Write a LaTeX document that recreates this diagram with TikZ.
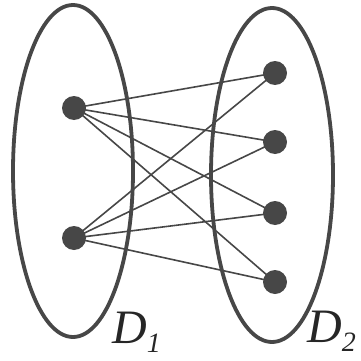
\documentclass[tikz,border=0pt]{standalone}
\usepackage{fontspec}
\setmainfont{Liberation Serif}
\usetikzlibrary{backgrounds}
\begin{document}
\begin{tikzpicture}[x=1pt,y=-1pt,
  dot/.style={circle,fill=black!72,draw=none,minimum size=24pt,inner sep=0pt},
  set/.style={draw=black!72,line width=3.8pt},
  edge/.style={draw=black!72,line width=1.6pt},
  lbl/.style={font=\fontsize{48}{48}\selectfont\itshape,inner sep=0pt,text=black!85}]
\useasboundingbox (0,0) rectangle (360,361);
\draw[set] (73,171) ellipse [x radius=60, y radius=166];
\draw[set] (272,175) ellipse [x radius=61, y radius=167];
\node[dot] (a1) at (74,108) {};
\node[dot] (a2) at (74,238) {};
\node[dot] (b1) at (275,73) {};
\node[dot] (b2) at (275,142) {};
\node[dot] (b3) at (275,213) {};
\node[dot] (b4) at (275,282) {};
\begin{scope}[on background layer]
\foreach \a in {a1,a2}{\foreach \b in {b1,b2,b3,b4}{\draw[edge] (\a.center) -- (\b.center);}}
\end{scope}
\node[lbl,anchor=base west] (d1) at (112,343) {D\raisebox{-9pt}{\fontsize{28}{28}\selectfont 1}};
\node[lbl,anchor=base west] (d2) at (307,342) {D\raisebox{-9pt}{\fontsize{28}{28}\selectfont 2}};
\end{tikzpicture}
\end{document}
